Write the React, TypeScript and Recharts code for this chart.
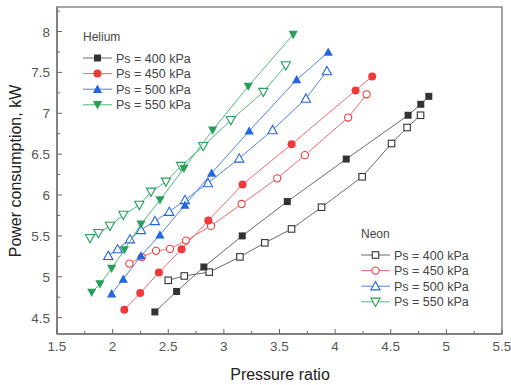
import React from 'react';
import { ScatterChart, Scatter, XAxis, YAxis, ReferenceArea } from 'recharts';

// Helium (filled markers)
const helium400: [number, number][] = [[2.38, 4.57], [2.575, 4.82], [2.82, 5.12], [3.165, 5.5], [3.57, 5.92], [4.1, 6.44], [4.656, 6.976], [4.77, 7.11], [4.842, 7.207]];
const helium450: [number, number][] = [[2.105, 4.598], [2.248, 4.801], [2.416, 5.052], [2.62, 5.338], [2.86, 5.687], [3.168, 6.13], [3.609, 6.622], [4.184, 7.28], [4.333, 7.451]];
const helium500: [number, number][] = [[1.991, 4.793], [2.096, 4.972], [2.255, 5.256], [2.425, 5.512], [2.65, 5.878], [2.89, 6.268], [3.228, 6.784], [3.654, 7.411], [3.938, 7.748]];
const helium550: [number, number][] = [[1.812, 4.809], [1.886, 4.911], [1.991, 5.101], [2.105, 5.329], [2.255, 5.643], [2.426, 5.939], [2.641, 6.326], [2.899, 6.793], [3.219, 7.329], [3.623, 7.963]];
// Neon (open markers)
const neon400: [number, number][] = [[2.5, 4.957], [2.644, 5.01], [2.868, 5.057], [3.144, 5.243], [3.368, 5.415], [3.608, 5.585], [3.878, 5.851], [4.243, 6.223], [4.507, 6.63], [4.647, 6.826], [4.768, 6.976]];
const neon450: [number, number][] = [[2.15, 5.161], [2.261, 5.24], [2.39, 5.317], [2.515, 5.341], [2.659, 5.443], [2.884, 5.622], [3.159, 5.89], [3.479, 6.204], [3.728, 6.488], [4.117, 6.948], [4.283, 7.232]];
const neon500: [number, number][] = [[1.961, 5.256], [2.045, 5.338], [2.156, 5.46], [2.255, 5.573], [2.38, 5.683], [2.509, 5.796], [2.65, 5.94], [2.857, 6.146], [3.138, 6.448], [3.438, 6.795], [3.737, 7.18], [3.926, 7.516]];
const neon550: [number, number][] = [[1.797, 5.472], [1.872, 5.533], [1.976, 5.622], [2.096, 5.756], [2.24, 5.878], [2.345, 6.04], [2.479, 6.162], [2.614, 6.354], [2.814, 6.598], [3.063, 6.915], [3.354, 7.26], [3.557, 7.585]];

const seriesLabels = ['Ps = 400 kPa', 'Ps = 450 kPa', 'Ps = 500 kPa', 'Ps = 550 kPa'];
const xTicks = [1.5, 1.75, 2, 2.25, 2.5, 2.75, 3, 3.25, 3.5, 3.75, 4, 4.25, 4.5, 4.75, 5, 5.25, 5.5];
const yTicks = [4.5, 4.75, 5, 5.25, 5.5, 5.75, 6, 6.25, 6.5, 6.75, 7, 7.25, 7.5, 7.75, 8, 8.25];

const FONT = 'Arial, "Liberation Sans", sans-serif';
const markerColors = ['#333333', '#f03a3a', '#2167e0', '#26a05a'];
const lineColors = ['#6a6a6a', '#f06a6a', '#4a84e6', '#4fb87a'];
const shapes = ['square', 'circle', 'up', 'down'];

const toPts = (a: [number, number][]) => a.map(([x, y]) => ({ x, y }));

function Marker({ cx, cy, kind, color, open }: { cx: number; cy: number; kind: string; color: string; open: boolean }) {
  const fill = open ? '#ffffff' : color;
  const sw = open ? 1.1 : 0;
  if (kind === 'square') {
    const s = open ? 6.5 : 7;
    return <rect x={cx - s / 2} y={cy - s / 2} width={s} height={s} fill={fill} stroke={color} strokeWidth={sw} />;
  }
  if (kind === 'circle') {
    return <circle cx={cx} cy={cy} r={open ? 3.6 : 4} fill={fill} stroke={color} strokeWidth={sw} />;
  }
  const h = 4.6;
  if (kind === 'up') {
    return <polygon points={`${cx - h},${cy + h * 0.8} ${cx + h},${cy + h * 0.8} ${cx},${cy - h}`} fill={fill} stroke={color} strokeWidth={sw} />;
  }
  return <polygon points={`${cx - h},${cy - h * 0.8} ${cx + h},${cy - h * 0.8} ${cx},${cy + h}`} fill={fill} stroke={color} strokeWidth={sw} />;
}

const XTick = (props: any) => {
  const { x, y, payload } = props;
  const v = payload.value as number;
  const major = Math.abs(v * 2 - Math.round(v * 2)) < 1e-6;
  return (
    <g>
      <line x1={x} x2={x} y1={y} y2={y - (major ? 5 : 3)} stroke="#666" strokeWidth={1} />
      {major && (
        <text x={x} y={y + 17} textAnchor="middle" fontSize={13.5} fontFamily={FONT} fill="#555">
          {String(v)}
        </text>
      )}
    </g>
  );
};

const YTick = (props: any) => {
  const { x, y, payload } = props;
  const v = payload.value as number;
  const major = Math.abs(v * 2 - Math.round(v * 2)) < 1e-6;
  return (
    <g>
      <line x1={x} x2={x + (major ? 5 : 3)} y1={y} y2={y} stroke="#666" strokeWidth={1} />
      {major && (
        <text x={x - 7} y={y + 5} textAnchor="end" fontSize={13.5} fontFamily={FONT} fill="#555">
          {String(v)}
        </text>
      )}
    </g>
  );
};

function LegendBlock({ title, x, y, open }: { title: string; x: number; y: number; open: boolean }) {
  return (
    <g>
      <text x={x} y={y} fontSize={12} fontFamily={FONT} fill="#444">{title}</text>
      {seriesLabels.map((lab, i) => {
        const cy = y + 17 + i * 15.6;
        return (
          <g key={lab}>
            <line x1={x} x2={x + 29} y1={cy} y2={cy} stroke={lineColors[i]} strokeWidth={1} />
            <Marker cx={x + 14.5} cy={cy} kind={shapes[i]} color={markerColors[i]} open={open} />
            <text x={x + 33} y={cy + 4.5} fontSize={12.5} fontFamily={FONT} fill="#444">{lab}</text>
          </g>
        );
      })}
    </g>
  );
}

const helium = [helium400, helium450, helium500, helium550];
const neon = [neon400, neon450, neon500, neon550];

export default function App() {
  return (
    <div style={{ position: 'absolute', left: 0, top: 0, width: 511, height: 385, background: '#fff' }}>
      <ScatterChart width={511} height={385} margin={{ top: 7, right: 9, bottom: 0, left: 0 }}>
        <XAxis
          type="number"
          dataKey="x"
          domain={[1.5, 5.5]}
          ticks={xTicks}
          interval={0}
          tickSize={0}
          tickMargin={0}
          tickLine={false}
          tick={XTick}
          height={51}
          stroke="#777"
          strokeWidth={1.5}
          allowDataOverflow
        />
        <YAxis
          type="number"
          dataKey="y"
          domain={[4.3, 8.3]}
          ticks={yTicks}
          interval={0}
          tickSize={0}
          tickMargin={0}
          tickLine={false}
          tick={YTick}
          width={57}
          stroke="#777"
          strokeWidth={1.5}
          allowDataOverflow
        />
        <ReferenceArea x1={1.5} x2={5.5} y1={4.3} y2={8.3} fill="none" stroke="#888" strokeWidth={1.5} ifOverflow="visible" />
        {neon.map((d, i) => (
          <Scatter
            key={'n' + i}
            data={toPts(d)}
            isAnimationActive={false}
            line={{ stroke: lineColors[i], strokeWidth: 1 }}
            shape={(p: any) => <Marker cx={p.cx} cy={p.cy} kind={shapes[i]} color={markerColors[i]} open={true} />}
          />
        ))}
        {helium.map((d, i) => (
          <Scatter
            key={'h' + i}
            data={toPts(d)}
            isAnimationActive={false}
            line={{ stroke: lineColors[i], strokeWidth: 1 }}
            shape={(p: any) => <Marker cx={p.cx} cy={p.cy} kind={shapes[i]} color={markerColors[i]} open={false} />}
          />
        ))}
      </ScatterChart>
      <svg width={511} height={385} style={{ position: 'absolute', left: 0, top: 0, pointerEvents: 'none' }}>
        <LegendBlock title="Helium" x={83} y={41} open={false} />
        <LegendBlock title="Neon" x={361} y={238} open={true} />
        <text x={280} y={380} textAnchor="middle" fontSize={16} fontFamily={FONT} fill="#222">Pressure ratio</text>
        <text x={0} y={0} transform="translate(21,171) rotate(-90)" textAnchor="middle" fontSize={16} fontFamily={FONT} fill="#222">Power consumption, kW</text>
      </svg>
    </div>
  );
}
